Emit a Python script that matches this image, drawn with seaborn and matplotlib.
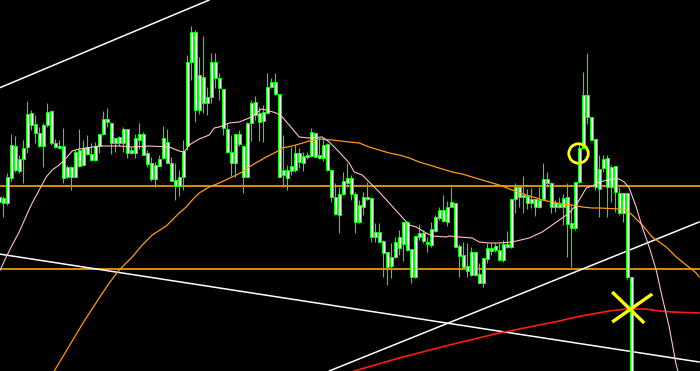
import numpy as np
import pandas as pd
import matplotlib
matplotlib.use("Agg")
import matplotlib.pyplot as plt
import seaborn as sns

# ── Data (prices in points above a reference level) ───────────────

opens = [174, 168, 168, 193, 225, 200, 212, 224, 258, 247, 225, 225, 259, 260, 228, 225,
         225, 194, 194, 194, 221, 206, 224, 217, 211, 225, 237, 252, 248, 228, 234, 228,
         242, 218, 218, 231, 237, 218, 208, 192, 205, 213, 229, 208, 191, 185, 194, 225,
         309, 339, 261, 294, 268, 274, 309, 293, 282, 242, 219, 208, 237, 225, 194, 248,
         269, 258, 250, 258, 284, 289, 277, 196, 201, 200, 201, 218, 208, 214, 215, 238,
         213, 213, 227, 201, 174, 156, 177, 193, 193, 177, 149, 164, 174, 173, 134, 139,
         130, 119, 105, 114, 123, 127, 149, 122, 94, 134, 138, 129, 126, 140, 153, 161,
         149, 164, 168, 125, 116, 100, 96, 119, 97, 88, 112, 123, 121, 121, 111, 124,
         124, 172, 184, 174, 175, 168, 172, 164, 172, 192, 188, 164, 167, 164, 174, 143,
         143, 189, 223, 276, 254, 232, 182, 203, 213, 184, 205, 178, 158, 178, 94]
highs = [176, 175, 198, 237, 235, 216, 231, 270, 261, 256, 244, 248, 268, 261, 232, 231,
         243, 206, 205, 221, 242, 231, 236, 228, 229, 237, 260, 263, 249, 233, 235, 244,
         242, 224, 237, 248, 239, 221, 214, 209, 216, 245, 242, 214, 208, 201, 231, 316,
         345, 341, 314, 335, 284, 318, 318, 298, 282, 248, 236, 237, 241, 225, 249, 271,
         275, 264, 266, 298, 293, 298, 277, 236, 206, 224, 226, 223, 219, 219, 243, 238,
         233, 233, 228, 201, 188, 184, 199, 208, 196, 179, 171, 179, 189, 173, 148, 148,
         131, 119, 128, 134, 141, 149, 150, 122, 135, 147, 141, 134, 149, 156, 164, 176,
         170, 184, 168, 127, 129, 128, 124, 119, 108, 113, 128, 128, 128, 128, 131, 140,
         172, 188, 186, 195, 182, 183, 172, 184, 208, 199, 189, 171, 174, 177, 188, 166,
         189, 228, 299, 318, 254, 232, 216, 216, 216, 206, 205, 184, 178, 178, 94]
lows = [166, 154, 166, 190, 199, 198, 188, 218, 241, 228, 224, 204, 244, 226, 223, 223,
        188, 193, 181, 194, 204, 205, 216, 210, 210, 218, 236, 244, 217, 219, 225, 219,
        213, 217, 213, 222, 216, 204, 190, 184, 205, 212, 208, 190, 171, 175, 181, 221,
        291, 249, 257, 258, 256, 268, 283, 271, 236, 218, 195, 194, 225, 178, 194, 230,
        251, 230, 229, 258, 283, 276, 194, 184, 181, 196, 199, 203, 200, 212, 214, 214,
        212, 210, 200, 169, 156, 138, 176, 184, 171, 138, 148, 156, 171, 129, 129, 129,
        94, 86, 93, 113, 116, 110, 120, 88, 93, 131, 128, 119, 124, 139, 151, 149,
        145, 164, 124, 94, 104, 94, 95, 95, 88, 84, 108, 116, 119, 110, 109, 123,
        123, 158, 164, 158, 162, 163, 155, 163, 172, 184, 158, 159, 163, 146, 114, 104,
        141, 188, 223, 247, 231, 181, 154, 199, 154, 169, 159, 156, 149, 92, -20]
closes = [169, 173, 194, 226, 201, 212, 223, 257, 246, 238, 238, 246, 246, 228, 224, 223,
          193, 204, 204, 219, 205, 223, 217, 211, 225, 237, 252, 249, 228, 233, 228, 242,
          218, 221, 233, 237, 216, 207, 192, 206, 212, 233, 208, 190, 185, 194, 220, 309,
          339, 261, 296, 268, 274, 309, 293, 283, 243, 219, 208, 237, 227, 194, 248, 268,
          256, 249, 259, 284, 289, 277, 194, 201, 193, 205, 218, 209, 215, 216, 239, 214,
          216, 226, 201, 174, 157, 177, 190, 188, 177, 149, 166, 174, 172, 134, 139, 129,
          118, 104, 114, 129, 134, 149, 121, 94, 135, 138, 130, 127, 142, 154, 161, 150,
          164, 169, 124, 115, 104, 105, 119, 96, 88, 113, 123, 120, 125, 111, 127, 127,
          172, 184, 174, 176, 168, 172, 164, 171, 192, 188, 164, 168, 164, 173, 147, 148,
          189, 223, 276, 254, 231, 184, 202, 212, 184, 204, 179, 158, 178, 94, -20]

# fast MA (pink): bar position / value
fast_ma_x = [0, 1.75, 3.25, 5, 6.75, 8.25, 10, 11.75, 13.25, 15, 16.75, 18.25, 20, 21.75,
             25, 30, 33.25, 37.5, 42.5, 45, 46.25, 47.5, 50, 52.5, 53.75, 55, 57.5, 60,
             62.5, 63.75, 65.5, 66.75, 69.25, 70.75, 72.5, 75, 77.5, 80.75, 82.5, 85,
             87.5, 88.75, 90.75, 92.5, 95, 97.5, 100, 102.5, 104.25, 106.75, 108.25,
             111.75, 112.5, 115, 118.25, 120, 122.5, 125, 128.25, 132.5, 135.75, 138.25,
             140.75, 142.5, 144.25, 145.75, 146.75, 148.25, 150, 153.25, 155, 156.25,
             157.5, 159.25, 160.75, 162.5, 164.25, 165.75, 167.5, 169.25, 170.75]
fast_ma_y = [99, 114, 126, 139, 155, 168, 181, 194, 201, 206, 213, 220, 222, 223,
             225, 225, 224, 225, 224, 220, 219, 226, 232, 236, 243, 244, 248, 249,
             253, 256, 262, 261, 258, 254, 246, 234, 233, 234, 229, 219,
             208, 199, 196, 189, 179, 168, 157, 146, 144, 138, 135,
             134, 135, 134, 133, 129, 128, 128, 129, 133, 139, 146,
             153, 158, 166, 176, 183, 185, 189, 192, 192, 189,
             183, 164, 144, 124, 101, 74, 44, 6, -14]

# slow MA (orange)
slow_ma_x = [13.75, 17.5, 21.25, 25, 27.5, 30, 33.25, 35.75, 38.25, 41.75, 45, 46.75, 48.25,
             50, 52.5, 55, 58.25, 60.75, 63.25, 66.75, 69.25, 70.75, 73.25, 75, 77.5, 80,
             83.25, 87.5, 90, 92.5, 95, 97.5, 100, 102.5, 105, 107.5, 110.75, 113.25,
             115.75, 118.25, 120.75, 123.25, 125, 128.25, 131.75, 134.25, 135.75, 138.25,
             140.75, 143.25, 145.75, 148.25, 150, 155, 156.75, 158.25, 160.75, 163.25,
             166.75, 169.25, 171.75, 174.25, 175]
slow_ma_y = [0, 25, 50, 73, 88, 101, 114, 126, 136, 145, 158, 164, 171,
             178, 184, 188, 194, 199, 206, 214, 219, 223, 225, 227, 230, 232,
             231, 229, 228, 224, 221, 218, 216, 213, 209, 206, 202, 199,
             197, 194, 191, 188, 186, 181, 176, 173, 171, 169,
             167, 166, 164, 163, 163, 162, 161, 156, 146, 134,
             124, 114, 106, 98, 94]

# long MA (red)
long_ma_x = [88.75, 100, 112.5, 125, 135, 140, 144.25, 148.25, 152.5, 156.75, 161.75,
             165, 168.25, 175]
long_ma_y = [0, 13, 26, 38, 46, 50, 54, 57, 60, 62, 62, 60, 59, 58]

# horizontal levels and trendlines (bar, price) end points
levels = [185, 102]
trend_x0 = [0, 0, 82.5]
trend_y0 = [283, 117, 0]
trend_x1 = [52.5, 175, 175]
trend_y1 = [371, 9, 149]

# signal markers
circle_bar, circle_price = 144.6, 218.5
cross_bar, cross_price = 157.75, 63

BULL = "#00ff00"
df = pd.DataFrame({"open": opens, "high": highs, "low": lows, "close": closes})
df["bar"] = np.arange(len(df))
df["top"] = df[["open", "close"]].max(axis=1)
df["bot"] = df[["open", "close"]].min(axis=1)
df["body"] = (df["top"] - df["bot"]).clip(lower=1)

sns.set_style("dark", {"axes.facecolor": "black", "figure.facecolor": "black",
                       "axes.edgecolor": "black"})

fig = plt.figure(figsize=(7, 3.71), dpi=100)
ax = fig.add_axes([0, 0, 1, 1])

# levels and trendlines
for lv in levels:
    ax.axhline(lv, color="#ffa500", lw=1.2, zorder=1)
for x0, y0, x1, y1 in zip(trend_x0, trend_y0, trend_x1, trend_y1):
    ax.plot([x0, x1], [y0, y1], color="white", lw=1.1, zorder=1)

# candles
ax.vlines(df["bar"], df["low"], df["high"], color=BULL, lw=0.8, zorder=2)
ax.bar(df["bar"], df["body"], bottom=df["bot"], width=0.72,
       color="white", edgecolor=BULL, linewidth=0.75, zorder=3)

# moving averages
sns.lineplot(x=long_ma_x, y=long_ma_y, ax=ax, color="#ff1a1a", lw=1.2, zorder=4)
sns.lineplot(x=slow_ma_x, y=slow_ma_y, ax=ax, color="#ff9a10", lw=0.9, zorder=4)
sns.lineplot(x=fast_ma_x, y=fast_ma_y, ax=ax, color="#ffc0cb", lw=0.8, zorder=4)

# signal markers
ax.plot(circle_bar, circle_price, marker="o", ms=14, mfc="none", mec="#ffff00",
        mew=2, zorder=5)
ax.plot([cross_bar - 4.5, cross_bar + 3.5], [cross_price + 16, cross_price - 15],
        color="#ffff00", lw=2.4, solid_capstyle="butt", zorder=5)
ax.plot([cross_bar - 4.5, cross_bar + 5.5], [cross_price - 14, cross_price + 14],
        color="#ffff00", lw=2.4, solid_capstyle="butt", zorder=5)

ax.set_xlim(0.2, 175.2)
ax.set_ylim(0, 371)
ax.set_xticks([])
ax.set_yticks([])
ax.set_xlabel("")
ax.set_ylabel("")
for s in ax.spines.values():
    s.set_visible(False)

fig.savefig("out.png", dpi=100, facecolor="black")
